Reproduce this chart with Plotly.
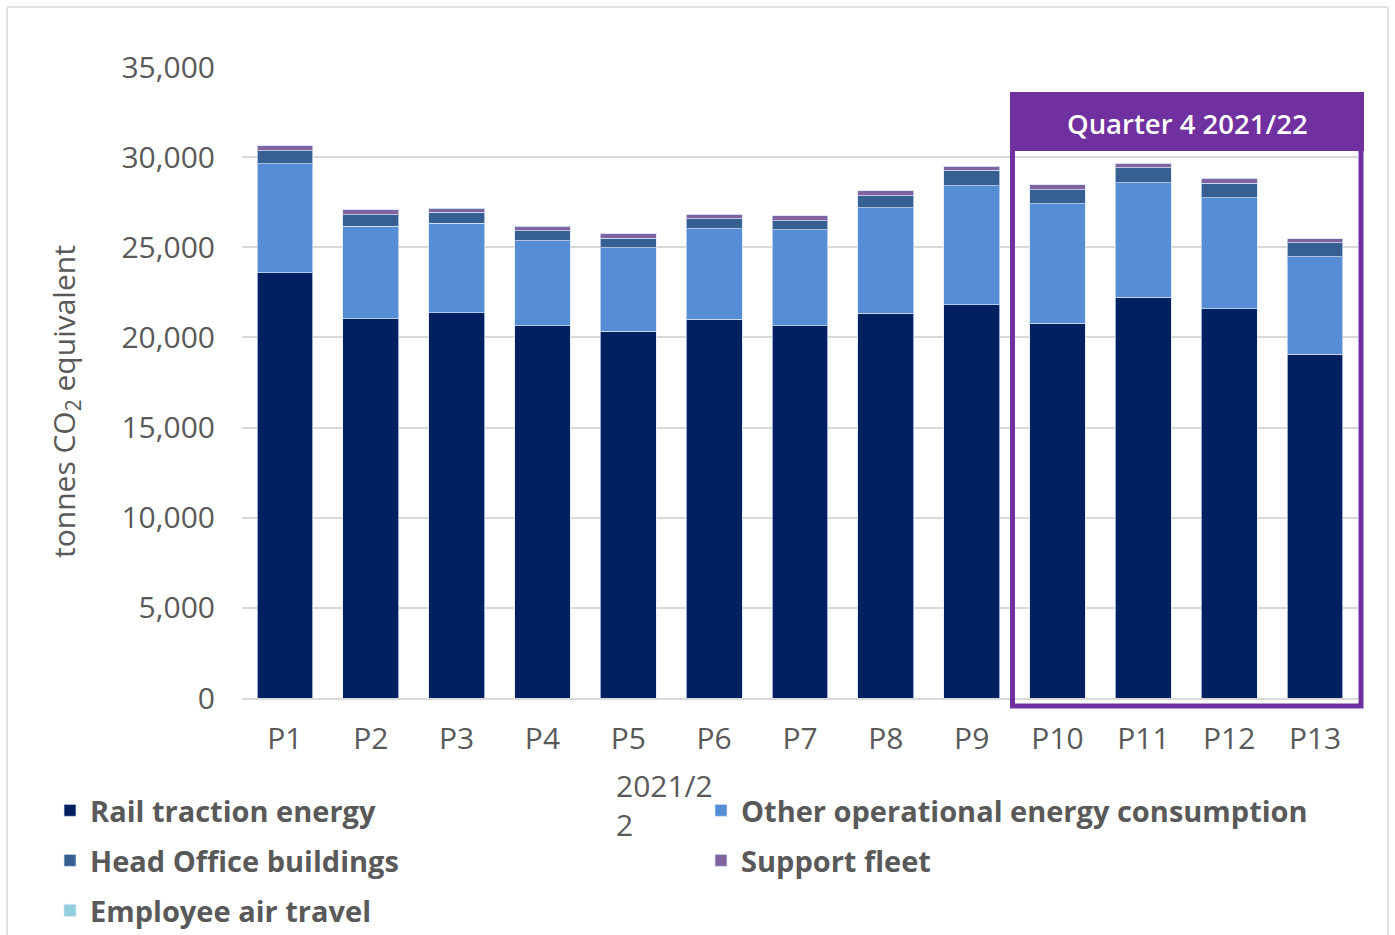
import plotly.graph_objects as go

# Monthly periods of the 2021/22 reporting year
periods = ["P1", "P2", "P3", "P4", "P5", "P6", "P7", "P8", "P9", "P10", "P11", "P12", "P13"]

# Emissions by source, tonnes CO2 equivalent
rail_traction = [23600, 21030, 21370, 20650, 20340, 21000, 20650, 21340, 21810, 20800, 22220, 21590, 19060]
other_operational = [6020, 5150, 4970, 4720, 4630, 5030, 5310, 5860, 6600, 6610, 6350, 6170, 5420]
head_office = [740, 630, 590, 560, 540, 540, 520, 650, 850, 790, 830, 780, 760]
support_fleet = [270, 260, 220, 220, 240, 240, 260, 280, 220, 260, 260, 280, 220]
employee_air = [10, 10, 10, 10, 10, 10, 10, 10, 10, 10, 10, 10, 10]

y_ticks = [0, 5000, 10000, 15000, 20000, 25000, 30000, 35000]

# name, values, colour, legend row
series = [
    ("Rail traction energy", rail_traction, "#002060", "legend"),
    ("Other operational energy consumption", other_operational, "#558ED5", "legend"),
    ("Head Office buildings", head_office, "#366092", "legend2"),
    ("Support fleet", support_fleet, "#8064A2", "legend2"),
    ("Employee air travel", employee_air, "#92CDDC", "legend3"),
]

W, H = 1395, 935
L, R, T, B = 242, 37, 67, 237
plot_w = W - L - R
plot_h = H - T - B


def px_x(px):
    return (px - L) / plot_w


def px_y(py):
    return (H - B - py) / plot_h


fig = go.Figure()
for name, vals, color, leg in series:
    fig.add_trace(go.Bar(
        x=periods, y=vals, name=name, legend=leg,
        marker=dict(color=color, line=dict(color="rgba(220,230,250,0.7)", width=1)),
    ))

grey = "#595959"
legend_style = dict(
    orientation="h", xanchor="left", yanchor="top",
    entrywidth=606, entrywidthmode="pixels",
    font=dict(size=29, color=grey, weight="bold"),
    traceorder="normal", itemclick=False, bgcolor="rgba(0,0,0,0)",
)
fig.update_layout(
    width=W, height=H,
    margin=dict(l=L, r=R, t=T, b=B, autoexpand=False),
    barmode="stack", bargap=0.35,
    paper_bgcolor="white", plot_bgcolor="white",
    font=dict(family="Open Sans", color=grey),
    xaxis=dict(
        showgrid=False, showline=True, linecolor="#d9d9d9", linewidth=1.5,
        tickfont=dict(size=30, color=grey), ticks="", ticklabelstandoff=13,
    ),
    yaxis=dict(
        range=[0, 35000], tickvals=y_ticks, tickformat=",",
        gridcolor="#d9d9d9", gridwidth=1.5, zeroline=False,
        tickfont=dict(size=30, color=grey), ticks="", ticklabelstandoff=26,
    ),
    legend=dict(x=px_x(50), y=px_y(785), **legend_style),
    legend2=dict(x=px_x(50), y=px_y(835), **legend_style),
    legend3=dict(x=px_x(50), y=px_y(885), **legend_style),
    showlegend=True,
)

# y-axis title with subscript
fig.add_annotation(
    xref="paper", yref="paper", x=px_x(65), y=px_y(402),
    text="tonnes CO<sub>2</sub> equivalent", textangle=-90,
    showarrow=False, font=dict(size=30, color=grey),
    xanchor="center", yanchor="middle",
)

# wrapped x-axis title
fig.add_annotation(
    xref="paper", yref="paper", x=px_x(614), y=px_y(763),
    text="2021/2<br>2", align="left", showarrow=False,
    font=dict(size=30, color=grey), xanchor="left", yanchor="top",
)

# Quarter 4 highlight: frame and header band
purple = "#7030A0"
fig.add_shape(type="rect", xref="paper", yref="paper",
              x0=px_x(1012.5), x1=px_x(1361), y0=px_y(706), y1=px_y(95),
              line=dict(color=purple, width=5), fillcolor="rgba(0,0,0,0)", layer="above")
fig.add_shape(type="rect", xref="paper", yref="paper",
              x0=px_x(1010), x1=px_x(1364), y0=px_y(151), y1=px_y(92),
              line=dict(width=0), fillcolor=purple, layer="above")
fig.add_annotation(
    xref="paper", yref="paper", x=px_x(1187), y=px_y(123),
    text="Quarter 4 2021/22", showarrow=False,
    font=dict(size=27.5, color="white", weight=600),
    xanchor="center", yanchor="middle",
)

# outer chart frame
for x0, y0, x1, y1 in [(7, 7, 1388, 7), (7, 7, 7, 935), (1388, 7, 1388, 935)]:
    fig.add_shape(type="line", xref="paper", yref="paper",
                  x0=px_x(x0), x1=px_x(x1), y0=px_y(y0), y1=px_y(y1),
                  line=dict(color="#d9d9d9", width=1.5))

fig.write_html("out.html")
